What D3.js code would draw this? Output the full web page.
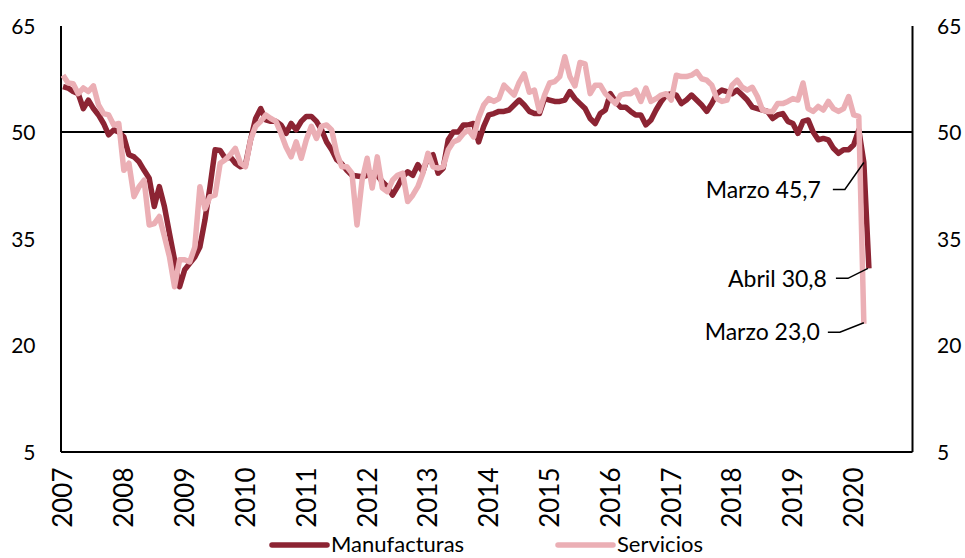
<!DOCTYPE html>
<html><head><meta charset="utf-8">
<script src="https://cdn.jsdelivr.net/npm/d3@7"></script>
<style>
body{margin:0;background:#fff;}
svg text{font-family:Lato,"Noto Sans",sans-serif;fill:#000;}
</style>
</head><body>
<svg id="chart" width="965" height="558"></svg>
<script>
// ---- data ----
const years = ["2007","2008","2009","2010","2011","2012","2013","2014","2015","2016","2017","2018","2019","2020"];
const monthNames = ["01","02","03","04","05","06","07","08","09","10","11","12"];
const yTicks = [5, 20, 35, 50, 65];
const seriesNames = ["Manufacturas", "Servicios"];

const manufacturas = [
56.4,56.2,55.7,55.4,53.3,54.5,53.3,52.4,51.2,49.6,50.3,50.0,
49.3,46.8,46.5,45.8,44.6,43.5,39.5,42.3,39.5,35.7,32.0,28.2,
30.6,31.5,32.4,33.8,37.6,42.3,47.5,47.4,46.3,46.5,45.6,45.1,
45.4,48.9,51.9,53.3,51.7,51.5,51.5,51.0,49.8,51.2,50.3,51.5,
52.2,52.2,51.5,50.3,48.6,47.5,46.1,45.5,44.6,43.9,43.8,43.7,
43.9,44.2,43.9,43.0,42.3,41.1,42.3,43.7,44.4,43.9,45.4,44.4,
46.5,46.8,44.2,44.9,48.9,50.0,50.0,51.0,51.0,51.2,48.6,50.8,
52.4,52.6,52.9,52.9,53.1,53.8,54.5,53.8,52.9,52.6,52.6,54.7,
54.5,54.3,54.3,54.5,55.7,54.7,54.0,53.3,51.9,51.2,52.6,53.1,
55.4,54.3,53.5,53.5,52.9,52.4,52.4,51.0,51.7,53.1,54.3,55.2,
55.4,55.2,54.0,54.5,55.2,54.5,53.8,52.9,54.0,55.4,55.9,55.7,
55.4,55.9,55.2,54.5,53.5,53.3,53.1,52.9,51.9,52.4,52.6,51.5,
51.2,49.8,51.5,51.7,50.0,48.9,49.1,48.9,47.7,47.0,47.5,47.5,
48.2,50.3,45.7,30.8
];

const servicios = [
58.0,56.9,56.8,55.4,56.2,55.7,56.5,53.8,52.6,52.4,51.0,51.2,
44.6,45.6,40.9,42.3,43.2,36.9,37.1,38.1,35.3,32.4,28.2,32.0,
32.0,31.7,33.8,42.3,39.2,40.9,41.1,45.6,46.1,46.8,47.7,45.6,
45.1,48.9,50.8,51.5,52.4,51.9,51.5,49.8,47.9,46.5,48.6,46.3,
48.9,50.8,49.1,50.8,51.0,50.3,47.0,45.1,45.1,44.2,36.9,43.2,
46.3,42.1,46.5,42.1,41.6,43.2,43.9,44.2,40.2,41.1,42.3,44.2,
47.0,45.1,44.9,45.1,47.5,48.6,48.9,49.8,50.3,49.3,52.0,53.8,
54.7,54.3,54.7,56.6,55.9,55.2,57.0,58.2,55.6,55.9,52.9,55.2,
56.9,57.1,57.8,60.6,57.8,56.5,59.8,59.6,55.4,56.6,56.6,55.4,
54.7,54.0,55.2,55.4,55.4,55.9,54.3,56.2,54.3,54.7,55.2,55.4,
54.5,58.0,57.8,57.8,58.0,58.5,57.5,57.3,56.6,54.7,54.3,54.5,
56.6,57.3,56.3,55.9,56.3,55.0,53.1,52.9,52.9,54.0,54.0,54.3,
54.7,54.5,56.9,53.3,52.9,53.6,53.1,54.3,53.3,52.9,53.3,55.0,
52.4,52.2,23.0
];

const annotationLabels = ["Marzo 45,7", "Abril 30,8", "Marzo 23,0"];
const annotationSeries = ["Manufacturas", "Manufacturas", "Servicios"];
const annotationMonths = ["2020-03", "2020-04", "2020-03"];

// ---- build ----
const months = [];
years.forEach(y => monthNames.forEach(m => months.push(y + "-" + m)));
const seriesValues = {Manufacturas: manufacturas, Servicios: servicios};
const colors = {Manufacturas: "#8C2433", Servicios: "#EBAFB5"};

const svg = d3.select("#chart");
const L = 60.5, R = 912, T = 25.5, B = 451.5;

const x = d3.scaleBand().domain(months).range([L, R]).padding(0);
const cx = m => x(m) + x.bandwidth() / 2;
const y = d3.scaleLinear().domain([5, 65]).range([B, T]);

// axes
const axL = svg.append("g").attr("transform", `translate(${L},0)`)
  .call(d3.axisLeft(y).tickValues(yTicks).tickSize(0).tickSizeOuter(0).tickPadding(25));
const axR = svg.append("g").attr("transform", `translate(${R},0)`)
  .call(d3.axisRight(y).tickValues(yTicks).tickSize(0).tickSizeOuter(0).tickPadding(25));
[axL, axR].forEach(g => {
  g.select(".domain").attr("stroke", "#000").attr("stroke-width", 2);
  g.selectAll("text").attr("font-size", 21).attr("font-family", "Lato").attr("dy", "0.36em");
});

const axB = svg.append("g").attr("transform", `translate(0,${B})`)
  .call(d3.axisBottom(x).tickValues(months.filter(m => m.endsWith("-01")))
    .tickFormat(m => m.slice(0, 4)).tickSize(0).tickSizeOuter(0));
axB.select(".domain").attr("stroke", "#000").attr("stroke-width", 2);
axB.selectAll("text")
  .attr("font-size", 26).attr("font-family", "Lato")
  .attr("text-anchor", "end")
  .attr("transform", "rotate(-90)")
  .attr("x", -16).attr("y", 0).attr("dy", "0.36em");

// 50 reference line
svg.append("line").attr("x1", L).attr("x2", R).attr("y1", y(50)).attr("y2", y(50))
  .attr("stroke", "#000").attr("stroke-width", 2);

// lines
const line = d3.line().x((d, i) => cx(months[i])).y(d => y(d));
seriesNames.forEach(s => {
  svg.append("path").datum(seriesValues[s])
    .attr("fill", "none").attr("stroke", colors[s]).attr("stroke-width", 5.5)
    .attr("stroke-linejoin", "round").attr("d", line);
});

// annotations
const annOffsets = [
  {tx: -43, ty: 27, hx1: -31, hx2: -19, ex: 0, ey: 0},
  {tx: -42, ty: 10, hx1: -33, hx2: -21, ex: -1, ey: 0},
  {tx: -44, ty: 8.5, hx1: -36, hx2: -24, ex: 0, ey: -1}
];
annotationLabels.forEach((lab, k) => {
  const s = annotationSeries[k];
  const mi = months.indexOf(annotationMonths[k]);
  const px = cx(months[mi]), py = y(seriesValues[s][mi]);
  const o = annOffsets[k];
  const ly = py + o.ty;
  svg.append("path").attr("fill", "none").attr("stroke", "#000").attr("stroke-width", 1.5)
    .attr("d", `M${px + o.hx1},${ly}L${px + o.hx2},${ly}L${px + o.ex},${py + o.ey}`);
  svg.append("text").attr("x", px + o.tx).attr("y", ly).attr("dy", "0.36em")
    .attr("text-anchor", "end").attr("font-size", 23).text(lab);
});

// legend
const legX = [272, 558];
seriesNames.forEach((s, k) => {
  const g = svg.append("g").attr("transform", `translate(${legX[k]},545)`);
  g.append("line").attr("x1", 0).attr("x2", 55).attr("stroke", colors[s])
    .attr("stroke-width", 5.5).attr("stroke-linecap", "round");
  g.append("text").attr("x", 59).attr("y", 0).attr("dy", "0.34em")
    .attr("font-size", 22).text(s);
});
</script>
</body></html>
